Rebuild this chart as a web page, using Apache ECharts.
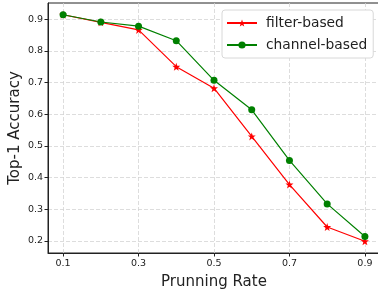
<!DOCTYPE html>
<html>
<head>
<meta charset="utf-8">
<script src="https://cdn.jsdelivr.net/npm/echarts@6/dist/echarts.min.js"></script>
<style>
html, body { margin: 0; padding: 0; background: #fff; }
#chart { width: 378px; height: 295px; }
</style>
</head>
<body>
<div id="chart"></div>
<script>
var rates = [0.1, 0.2, 0.3, 0.4, 0.5, 0.6, 0.7, 0.8, 0.9]
var filterBased = [0.914, 0.890, 0.866, 0.750, 0.682, 0.530, 0.378, 0.244, 0.199]
var channelBased = [0.914, 0.891, 0.878, 0.832, 0.707, 0.614, 0.454, 0.317, 0.214]
var xTicks = [0.1, 0.3, 0.5, 0.7, 0.9]
var yTicks = [0.2, 0.3, 0.4, 0.5, 0.6, 0.7, 0.8, 0.9]

function pairs (xs, ys) {
  return xs.map(function (x, i) { return [x, ys[i]] })
}

var font = 'DejaVu Sans'
var gridLine = { show: true, lineStyle: { color: '#d4d4d4', type: [4, 2], width: 0.8 } }

var option = {
  animation: false,
  textStyle: { fontFamily: font },
  grid: {
    left: 48, top: 3, right: -2, bottom: 42,
    outerBoundsMode: 'none',
    containLabel: false,
    show: true, borderColor: '#222', borderWidth: 1, backgroundColor: 'transparent'
  },
  legend: {
    left: 222, top: 10,
    orient: 'vertical',
    itemWidth: 30, itemHeight: 9, itemGap: 8,
    padding: [6, 6, 6, 4],
    backgroundColor: '#fff',
    borderColor: '#d8d8d8', borderWidth: 1, borderRadius: 3,
    textStyle: { fontSize: 13.8, color: '#222', fontFamily: font, padding: [0, 0, 0, 4] }
  },
  xAxis: {
    type: 'value',
    min: 0.06, max: 0.94,
    name: 'Prunning Rate',
    nameLocation: 'middle',
    nameGap: 22,
    nameMoveOverlap: false,
    nameTextStyle: { fontSize: 15, color: '#222' },
    axisLine: { show: true, onZero: false, lineStyle: { color: '#222', width: 1 } },
    axisTick: { show: true, length: 3.5, customValues: xTicks, lineStyle: { color: '#222' } },
    axisLabel: { customValues: xTicks, fontSize: 9.5, color: '#222', margin: 6,
      formatter: function (v) { return v.toFixed(1) } },
    splitLine: gridLine
  },
  yAxis: {
    type: 'value',
    min: 0.162, max: 0.951,
    name: 'Top-1 Accuracy',
    nameLocation: 'middle',
    nameGap: 25,
    nameMoveOverlap: false,
    nameTextStyle: { fontSize: 15, color: '#222' },
    axisLine: { show: true, onZero: false, lineStyle: { color: '#222', width: 1 } },
    axisTick: { show: true, length: 3.5, customValues: yTicks, lineStyle: { color: '#222' } },
    axisLabel: { customValues: yTicks, fontSize: 9.5, color: '#222', margin: 5,
      formatter: function (v) { return v.toFixed(1) } },
    splitLine: gridLine
  },
  series: [
    {
      name: 'filter-based',
      type: 'line',
      data: pairs(rates, filterBased),
      symbol: 'path://M0,-10 L2.35,-3.24 L9.51,-3.09 L3.8,1.24 L5.88,8.09 L0,4 L-5.88,8.09 L-3.8,1.24 L-9.51,-3.09 L-2.35,-3.24 Z',
      symbolSize: 8,
      itemStyle: { color: '#ff0000' },
      lineStyle: { color: '#ff0000', width: 1.2 }
    },
    {
      name: 'channel-based',
      type: 'line',
      data: pairs(rates, channelBased),
      symbol: 'circle',
      symbolSize: 7,
      itemStyle: { color: '#008000' },
      lineStyle: { color: '#008000', width: 1.2 }
    }
  ]
}

var myChart = echarts.init(document.getElementById('chart'), null, { renderer: 'canvas' })
myChart.setOption(option)
</script>
</body>
</html>
